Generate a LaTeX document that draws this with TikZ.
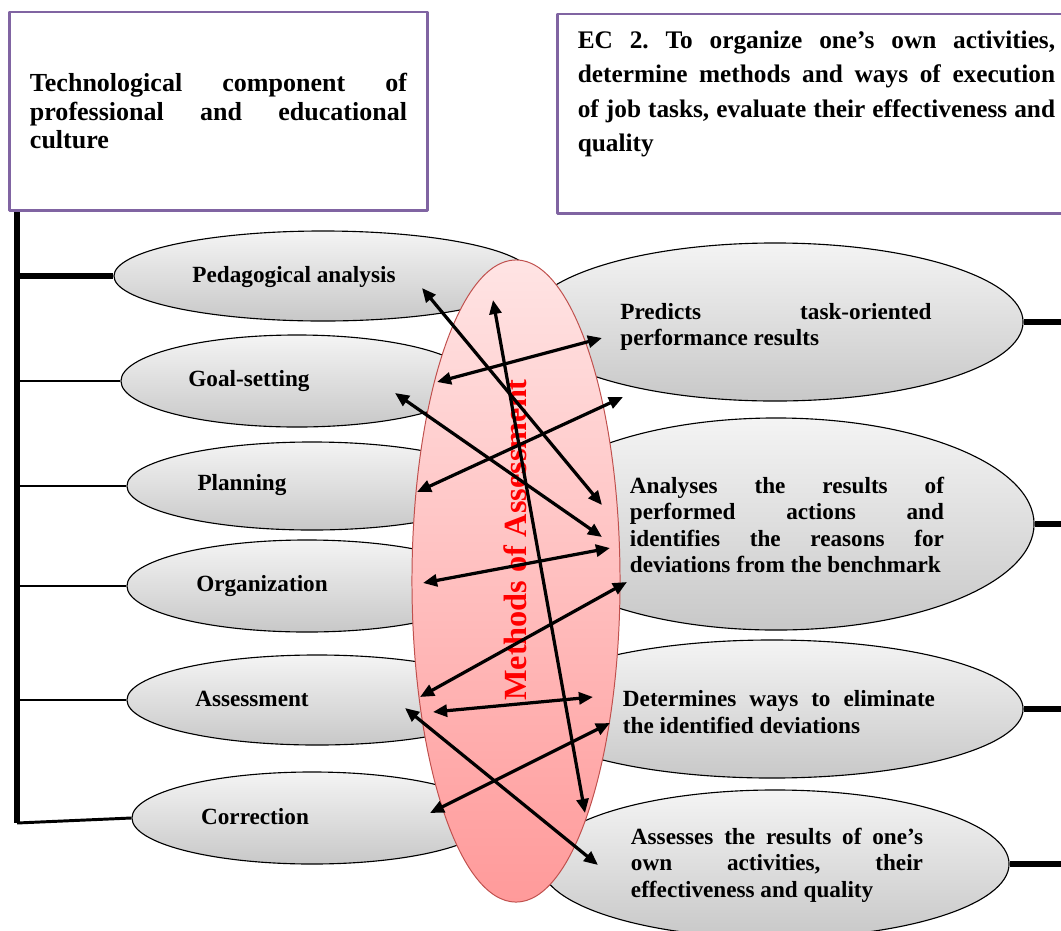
\documentclass[tikz,border=0pt]{standalone}
\usepackage{fontspec}
\setmainfont{Liberation Serif}
\usetikzlibrary{shapes.geometric,arrows.meta}
\definecolor{boxpurple}{HTML}{8064A2}
\definecolor{ovaltop}{HTML}{F4F4F4}
\definecolor{ovalbot}{HTML}{C8C8C8}
\definecolor{pinktop}{HTML}{FFE4E4}
\definecolor{pinkbot}{HTML}{FF9A9A}
\definecolor{pinkline}{HTML}{C0504D}
\hyphenpenalty=10000
\exhyphenpenalty=10000
\frenchspacing
\begin{document}
\begin{tikzpicture}[x=0.025cm, y=-0.025cm, line join=round, >={Triangle[length=10pt,width=8.5pt]},
	oval/.style 2 args={ellipse, draw=black, line width=0.8pt, top color=ovaltop, bottom color=ovalbot, minimum width=#1*0.5mm, minimum height=#2*0.5mm, inner sep=0pt},
	lbl/.style={font=\fontsize{16.5}{18.9}\selectfont\bfseries, inner sep=0pt},
	para/.style={lbl, text width=#1, align=justify},
	frame/.style={draw=boxpurple, line width=2.1pt, inner sep=0pt},
	boxtext/.style 2 args={font=\fontsize{#1}{#2}\selectfont\bfseries, inner sep=0pt, align=justify},
	stem/.style={line width=2.1pt},
	stemthick/.style={line width=3.6pt},
	link/.style={<->, line width=2.3pt}]
	\useasboundingbox (0,0) rectangle (1061,930);
	\node[frame, minimum width=417*0.25mm, minimum height=198*0.25mm] (techbox) at (218.5,111) {};
	\node[boxtext={18.5pt}{20.6pt}, text width=9.425cm] (techtxt) at (218.5,111) {Technological component of\linebreak professional and educational\linebreak culture};
	\node[frame, minimum width=512*0.25mm, minimum height=199*0.25mm] (ecbox) at (814,113.5) {};
	\node[boxtext={18pt}{24.5pt}, text width=11.93cm] (ectxt) at (816.5,94) {EC 2. To organize one’s own activities,\linebreak determine methods and ways of execution\linebreak of job tasks, evaluate their effectiveness and\linebreak quality};
	\node[oval={209}{45}] (ped) at (323,276) {};
	\node[oval={176}{46}] (goal) at (297,381) {};
	\node[oval={185}{44}] (plan) at (312,486) {};
	\node[oval={180}{46}] (org) at (307,586) {};
	\node[oval={190}{45}] (ass) at (317,700) {};
	\node[oval={180}{46}] (cor) at (312,818) {};
	\node[oval={248}{79}] (pred) at (775,322) {};
	\node[oval={258}{106}] (ana) at (776,524) {};
	\node[oval={251}{69}] (det) at (772,709) {};
	\node[oval={234}{74}] (own) at (775,864) {};
	\coordinate (bartop) at (17,212);
	\coordinate (barbot) at (17,823);
	\coordinate (rim) at (1070,0);
	\draw[stemthick] (bartop) -- (barbot);
	\draw[stemthick] (bartop|-ped.west) -- (ped.west);
	\draw[stem] (bartop|-goal.west) -- (goal.west);
	\draw[stem] (bartop|-plan.west) -- (plan.west);
	\draw[stem] (bartop|-org.west) -- (org.west);
	\draw[stem] (bartop|-ass.west) -- (ass.west);
	\draw[stem] (barbot) -- (cor.west);
	\draw[stemthick] (pred.east) -- (pred.east-|rim);
	\draw[stemthick] (ana.east) -- (ana.east-|rim);
	\draw[stemthick] (det.east) -- (det.east-|rim);
	\draw[stemthick] (own.east) -- (own.east-|rim);
	\node[lbl] (pedtxt) at (294,277) {Pedagogical analysis};
	\node[lbl] (goaltxt) at (249,381) {Goal-setting};
	\node[lbl] (plantxt) at (242,485) {Planning};
	\node[lbl] (orgtxt) at (262,586) {Organization};
	\node[lbl] (asstxt) at (252,699) {Assessment};
	\node[lbl] (cortxt) at (255,817) {Correction};
	\node[para=7.78cm] (predtxt) at (776,327) {Predicts task-oriented\linebreak performance results};
	\node[para=7.85cm] (anatxt) at (787,525) {Analyses the results of\linebreak performed actions and\linebreak identifies the reasons for\linebreak deviations from the benchmark};
	\node[para=7.8cm] (dettxt) at (779,712) {Determines ways to eliminate\linebreak the identified deviations};
	\node[para=7.3cm] (owntxt) at (777,865) {Assesses the results of one’s\linebreak own activities, their\linebreak effectiveness and quality};
	\node[ellipse, draw=pinkline, line width=0.7pt, top color=pinktop, bottom color=pinkbot, minimum width=104*0.5mm, minimum height=321*0.5mm, inner sep=0pt] (meth) at (516,581) {};
	\node[rotate=90, text=red, font=\fontsize{23}{27}\selectfont\bfseries, inner sep=0pt] (methtxt) at (515,540) {Methods of Assessment};
	\coordinate (ped1) at (422,288);
	\coordinate (ped2) at (493,300);
	\coordinate (goal1) at (437,382);
	\coordinate (goal2) at (395,393);
	\coordinate (plan1) at (417,492);
	\coordinate (org1) at (423,583);
	\coordinate (ass1) at (420,697);
	\coordinate (ass2) at (433,712);
	\coordinate (ass3) at (405,708);
	\coordinate (cor1) at (430,813);
	\coordinate (pred1) at (602,338);
	\coordinate (pred2) at (623,397);
	\coordinate (ana1) at (602,505);
	\coordinate (ana2) at (602,537);
	\coordinate (ana3) at (610,548);
	\coordinate (ana4) at (627,582);
	\coordinate (det1) at (593,697);
	\coordinate (det2) at (610,723);
	\coordinate (own1) at (598,865);
	\coordinate (own2) at (585,813);
	\draw[link] (ped1) -- (ana1);
	\draw[link] (ped2) -- (own2);
	\draw[link] (goal1) -- (pred1);
	\draw[link] (goal2) -- (ana2);
	\draw[link] (plan1) -- (pred2);
	\draw[link] (org1) -- (ana3);
	\draw[link] (ass1) -- (ana4);
	\draw[link] (ass2) -- (det1);
	\draw[link] (cor1) -- (det2);
	\draw[link] (ass3) -- (own1);
\end{tikzpicture}
\end{document}
